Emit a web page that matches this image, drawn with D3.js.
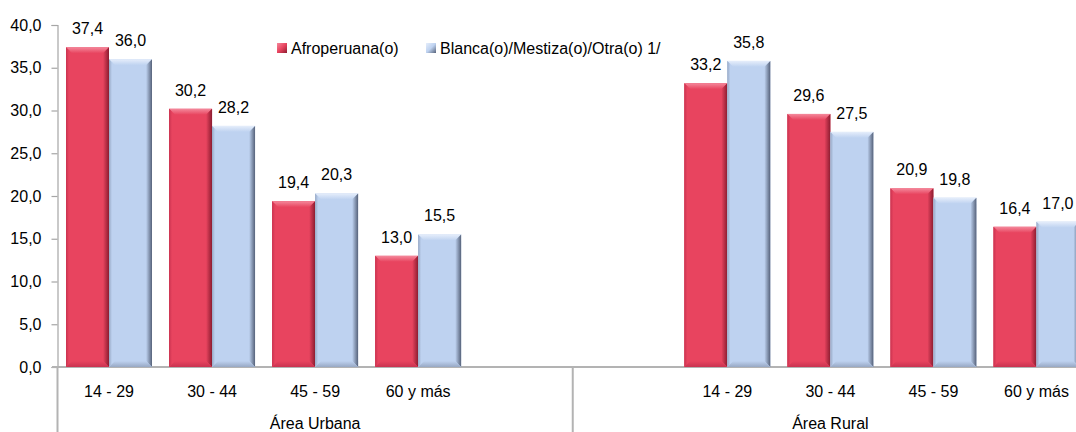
<!DOCTYPE html>
<html>
<head>
<meta charset="utf-8">
<script src="https://cdn.jsdelivr.net/npm/d3@7"></script>
<style>
  html, body { margin: 0; padding: 0; background: #fff; }
  svg { display: block; }
  text { font-family: "Liberation Sans", Arial, sans-serif; fill: #000; }
</style>
</head>
<body>
<svg id="chart" width="1076" height="432"></svg>
<script>
// ---------------- data ----------------
const areas = ["Área Urbana", "Área Rural"];
const ageGroups = ["14 - 29", "30 - 44", "45 - 59", "60 y más"];
const seriesNames = ["Afroperuana(o)", "Blanca(o)/Mestiza(o)/Otra(o) 1/"];
const afroUrbana = [37.4, 30.2, 19.4, 13.0];
const afroRural = [33.2, 29.6, 20.9, 16.4];
const blancaUrbana = [36.0, 28.2, 20.3, 15.5];
const blancaRural = [35.8, 27.5, 19.8, 17.0];
const yTicks = [0, 5, 10, 15, 20, 25, 30, 35, 40];

// slot layout: each area has five category slots (one blank in each, as in the source)
const slotsUrbana = ageGroups.map(a => "U|" + a).concat(["U|blank"]);
const slotsRural = ["R|blank"].concat(ageGroups.map(a => "R|" + a));
const slots = slotsUrbana.concat(slotsRural);

const rows = [];
ageGroups.forEach((g, i) => {
  rows.push({slot: "U|" + g, label: g, values: [afroUrbana[i], blancaUrbana[i]]});
  rows.push({slot: "R|" + g, label: g, values: [afroRural[i], blancaRural[i]]});
});

// ---------------- scales ----------------
const svg = d3.select("#chart");
const x0 = d3.scaleBand().domain(slots).range([57.5, 1088]).padding(0);
const x1 = d3.scaleBand().domain(seriesNames).range([8.5, 94.5]).padding(0);
const y = d3.scaleLinear().domain([0, 40]).range([367, 25]);

const fmt = v => d3.format(".1f")(v).replace(".", ",");
const FS = "16px";

// ---------------- gradients ----------------
const defs = svg.append("defs");
const palette = [
  {base: "#e8445f", light: "#f4899c", dark: "#8c1c30", mid: "#c93350"},
  {base: "#bed2f0", light: "#e6eefb", dark: "#56627a", mid: "#97a8c4"}
];
function lg(id, x1_, y1_, x2_, y2_, stops) {
  const g = defs.append("linearGradient").attr("id", id)
    .attr("x1", x1_).attr("y1", y1_).attr("x2", x2_).attr("y2", y2_);
  stops.forEach(s => g.append("stop").attr("offset", s[0]).attr("stop-color", s[1]));
}
palette.forEach((p, i) => {
  lg("top" + i, 0, 0, 0, 1, [[0, p.light], [1, p.base]]);
  lg("left" + i, 0, 0, 1, 0, [[0, p.mid], [1, p.base]]);
  lg("right" + i, 0, 0, 1, 0, [[0, p.base], [1, p.dark]]);
  lg("bottom" + i, 0, 0, 0, 1, [[0, p.base], [1, p.mid]]);
  lg("leg" + i, 0, 0, 1, 1, [[0, p.light], [0.5, p.base], [1, p.dark]]);
});

// ---------------- axes ----------------
const yAxis = d3.axisLeft(y).tickValues(yTicks).tickSize(6).tickPadding(10).tickFormat(fmt);
const gy = svg.append("g").attr("transform", "translate(57.5,0)").call(yAxis);
gy.select(".domain").attr("stroke", "#a6a6a6").attr("stroke-width", 1.2);
gy.selectAll(".tick line").attr("stroke", "#a6a6a6").attr("stroke-width", 1.2);
gy.selectAll(".tick text").style("font-size", FS).attr("fill", "#000");

// x axis line
svg.append("line").attr("x1", 52).attr("x2", 1076).attr("y1", y(0)).attr("y2", y(0))
  .attr("stroke", "#b3b3b3").attr("stroke-width", 2);

// area separators
const areaBounds = [x0(slotsUrbana[0]), x0(slotsRural[0]), x0(slotsRural[4]) + x0.bandwidth()];
areaBounds.forEach(b => {
  svg.append("line").attr("x1", b).attr("x2", b).attr("y1", y(0)).attr("y2", 432)
    .attr("stroke", "#b3b3b3").attr("stroke-width", 2);
});

// ---------------- bars ----------------
const bev = 6;
const groups = svg.selectAll("g.grp").data(rows).enter().append("g")
  .attr("class", "grp").attr("transform", d => `translate(${x0(d.slot)},0)`);

groups.each(function(d) {
  const g = d3.select(this);
  d.values.forEach((v, i) => {
    const bx = x1(seriesNames[i]);
    const bw = x1.bandwidth();
    const by = y(v);
    const bh = y(0) - by;
    const b = g.append("g");
    b.append("rect").attr("x", bx).attr("y", by).attr("width", bw).attr("height", bh).attr("fill", palette[i].base);
    b.append("polygon").attr("points", [[bx, by], [bx + bw, by], [bx + bw - bev, by + bev], [bx + bev, by + bev]].map(p => p.join(",")).join(" "))
      .attr("fill", `url(#top${i})`);
    b.append("polygon").attr("points", [[bx, by], [bx + 3, by + 3], [bx + 3, by + bh - 3], [bx, by + bh]].map(p => p.join(",")).join(" "))
      .attr("fill", `url(#left${i})`);
    b.append("polygon").attr("points", [[bx + bw, by], [bx + bw - bev, by + bev], [bx + bw - bev, by + bh - bev], [bx + bw, by + bh]].map(p => p.join(",")).join(" "))
      .attr("fill", `url(#right${i})`);
    b.append("polygon").attr("points", [[bx, by + bh], [bx + bev, by + bh - bev], [bx + bw - bev, by + bh - bev], [bx + bw, by + bh]].map(p => p.join(",")).join(" "))
      .attr("fill", `url(#bottom${i})`);
    g.append("text").attr("x", bx + bw / 2).attr("y", by - 13)
      .attr("text-anchor", "middle").style("font-size", FS).text(fmt(v));
  });
});

// category labels
svg.selectAll("text.cat").data(rows).enter().append("text").attr("class", "cat")
  .attr("x", d => x0(d.slot) + x0.bandwidth() / 2).attr("y", 397)
  .attr("text-anchor", "middle").style("font-size", FS).text(d => d.label);

// area labels
const areaSlots = [slotsUrbana, slotsRural];
areas.forEach((a, i) => {
  const s = areaSlots[i];
  const cx = (x0(s[0]) + x0(s[s.length - 1]) + x0.bandwidth()) / 2;
  svg.append("text").attr("x", cx).attr("y", 429).attr("text-anchor", "middle")
    .style("font-size", FS).text(a);
});

// ---------------- legend ----------------
const legendX = [277, 426];
seriesNames.forEach((n, i) => {
  svg.append("rect").attr("x", legendX[i]).attr("y", 43).attr("width", 10).attr("height", 10)
    .attr("fill", `url(#leg${i})`);
  svg.append("text").attr("x", legendX[i] + 14).attr("y", 54).style("font-size", FS).text(n);
});
</script>
</body>
</html>
